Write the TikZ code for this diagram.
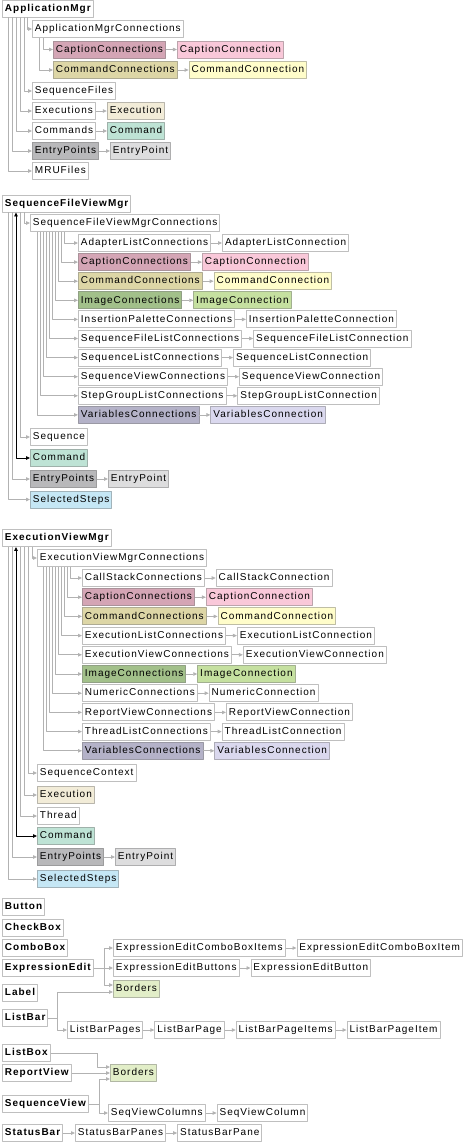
\documentclass[tikz,border=0pt]{standalone}
\usepackage{fontspec}
\setmainfont{Liberation Sans}[LetterSpace=10]
\usetikzlibrary{positioning,arrows.meta}
\definecolor{cCapA}{HTML}{D4A5B5}
\definecolor{cCapB}{HTML}{F9C8D9}
\definecolor{cCmdA}{HTML}{DDD6A6}
\definecolor{cCmdB}{HTML}{FFFDCA}
\definecolor{cImgA}{HTML}{A2C08A}
\definecolor{cImgB}{HTML}{C5E0A0}
\definecolor{cVarA}{HTML}{B4B2C8}
\definecolor{cVarB}{HTML}{DAD8EE}
\definecolor{cExe}{HTML}{F2ECD8}
\definecolor{cCmo}{HTML}{BEE3D5}
\definecolor{cEpA}{HTML}{B8B8BA}
\definecolor{cEpB}{HTML}{DDDDDE}
\definecolor{cSel}{HTML}{C5E7F5}
\definecolor{cBrd}{HTML}{E2EEC8}
\begin{document}
\begin{tikzpicture}[x=1pt, y=-1pt, font=\fontsize{10}{12}\selectfont, line join=round, >={Triangle[length=4pt,width=3.5pt]}, node distance=11pt,
	box/.style={draw=gray!50, line width=0.9pt, fill=white, anchor=west, inner xsep=2.5pt, inner ysep=0pt, minimum height=17pt, text height=7.5pt, text depth=2pt},
	mgr/.style={box, font=\fontsize{10}{12}\selectfont\bfseries},
	tint/.style={fill=#1, draw=#1!50!gray},
	link/.style={->, gray!60, line width=0.8pt},
	wire/.style={gray!60, line width=0.8pt},
	back/.style={<->, black, line width=0.8pt}]
	\useasboundingbox (0,0) rectangle (471,1143); % page size in px
	% ApplicationMgr
	\node[mgr] (am) at (2,8.5) {ApplicationMgr};
	\node[box] (amc) at (32,29) {ApplicationMgrConnections};
	\node[box,tint=cCapA] (am1) at (53,49.5) {CaptionConnections};
	\node[box,tint=cCapB,right=of am1] (am1x) {CaptionConnection};
	\node[box,tint=cCmdA] (am2) at (53,70) {CommandConnections};
	\node[box,tint=cCmdB,right=of am2] (am2x) {CommandConnection};
	\foreach \n/\y/\c/\t in {sf/91/white/SequenceFiles, ex/111/white/Executions, cm/131/white/Commands, ep/151/cEpA/EntryPoints, mru/171/white/MRUFiles}
	\node[box,tint=\c] (am-\n) at (32,\y) {\t};
	\node[box,tint=cExe,right=of am-ex] (am-exx) {Execution};
	\node[box,tint=cCmo,right=of am-cm] (am-cmx) {Command};
	\node[box,tint=cEpB,right=of am-ep] (am-epx) {EntryPoint};
	\foreach \n/\dx in {amc/25, am-sf/22, am-ex/18, am-cm/14, am-ep/10, am-mru/6}
	\draw[link] ([xshift=\dx]am.south west) |- (\n.west);
	\foreach \n/\dx in {am1/11, am2/7}
	\draw[link] ([xshift=\dx]amc.south west) |- (\n.west);
	\foreach \a/\b in {am1/am1x, am2/am2x, am-ex/am-exx, am-cm/am-cmx, am-ep/am-epx}
	\draw[link] (\a) -- (\b);
	% SequenceFileViewMgr
	\node[mgr] (fm) at (2,203.5) {SequenceFileViewMgr};
	\node[box] (fmc) at (30,223) {SequenceFileViewMgrConnections};
	\foreach \i/\c/\t/\d/\u in {1/white/AdapterListConnections/white/AdapterListConnection, 2/cCapA/CaptionConnections/cCapB/CaptionConnection, 3/cCmdA/CommandConnections/cCmdB/CommandConnection, 4/cImgA/ImageConnections/cImgB/ImageConnection, 5/white/InsertionPaletteConnections/white/InsertionPaletteConnection, 6/white/SequenceFileListConnections/white/SequenceFileListConnection, 7/white/SequenceListConnections/white/SequenceListConnection, 8/white/SequenceViewConnections/white/SequenceViewConnection, 9/white/StepGroupListConnections/white/StepGroupListConnection, 10/cVarA/VariablesConnections/cVarB/VariablesConnection}{
		\node[box,tint=\c] (fc\i) at (78,{243+19.1*(\i-1)}) {\t};
		\node[box,tint=\d,right=of fc\i] (fd\i) {\u};
		\draw[link] (fc\i) -- (fd\i);
		\draw[link] ([xshift={37-3*\i}]fmc.south west) |- (fc\i.west);
	}
	\foreach \n/\y/\c/\t in {seq/437/white/Sequence, cmd/458/cCmo/Command, ep/479/cEpA/EntryPoints, sel/499.5/cSel/SelectedSteps}
	\node[box,tint=\c] (fm-\n) at (30,\y) {\t};
	\node[box,tint=cEpB,right=of fm-ep] (fm-epx) {EntryPoint};
	\draw[link] (fm-ep) -- (fm-epx);
	\foreach \n/\dx in {fmc/22, fm-seq/18, fm-ep/10, fm-sel/6}
	\draw[link] ([xshift=\dx]fm.south west) |- (\n.west);
	\draw[back] ([xshift=14]fm.south west) |- (fm-cmd.west);
	% ExecutionViewMgr
	\node[mgr] (em) at (2,538) {ExecutionViewMgr};
	\node[box] (emc) at (37,558) {ExecutionViewMgrConnections};
	\foreach \i/\c/\t/\d/\u in {1/white/CallStackConnections/white/CallStackConnection, 2/cCapA/CaptionConnections/cCapB/CaptionConnection, 3/cCmdA/CommandConnections/cCmdB/CommandConnection, 4/white/ExecutionListConnections/white/ExecutionListConnection, 5/white/ExecutionViewConnections/white/ExecutionViewConnection, 6/cImgA/ImageConnections/cImgB/ImageConnection, 7/white/NumericConnections/white/NumericConnection, 8/white/ReportViewConnections/white/ReportViewConnection, 9/white/ThreadListConnections/white/ThreadListConnection, 10/cVarA/VariablesConnections/cVarB/VariablesConnection}{
		\node[box,tint=\c] (ec\i) at (82,{578+19.2*(\i-1)}) {\t};
		\node[box,tint=\d,right=of ec\i] (ed\i) {\u};
		\draw[link] (ec\i) -- (ed\i);
		\draw[link] ([xshift={36-3*\i}]emc.south west) |- (ec\i.west);
	}
	\foreach \n/\y/\c/\t in {ctx/773/white/SequenceContext, exe/795/cExe/Execution, thr/816/white/Thread, cmd/836/cCmo/Command, ep/857/cEpA/EntryPoints, sel/879/cSel/SelectedSteps}
	\node[box,tint=\c] (em-\n) at (37,\y) {\t};
	\node[box,tint=cEpB,right=of em-ep] (em-epx) {EntryPoint};
	\draw[link] (em-ep) -- (em-epx);
	\foreach \n/\dx in {emc/30, em-ctx/26, em-exe/22, em-thr/18, em-ep/10, em-sel/6}
	\draw[link] ([xshift=\dx]em.south west) |- (\n.west);
	\draw[back] ([xshift=14]em.south west) |- (em-cmd.west);
	% controls
	\foreach \n/\y/\t in {btn/907/Button, chk/928/CheckBox, cmb/948/ComboBox, ee/968/ExpressionEdit, lbl/993/Label, lb/1018/ListBar, lbx/1053/ListBox, rv/1073/ReportView, sv/1104/SequenceView, sb/1133/StatusBar}
	\node[mgr] (\n) at (2,\y) {\t};
	\node[box] (ee1) at (113,948) {ExpressionEditComboBoxItems};
	\node[box,right=of ee1] (ee1x) {ExpressionEditComboBoxItem};
	\node[box] (ee2) at (113,968) {ExpressionEditButtons};
	\node[box,right=of ee2] (ee2x) {ExpressionEditButton};
	\node[box,tint=cBrd] (brd1) at (113,989) {Borders};
	\node[box] (lb1) at (67,1030) {ListBarPages};
	\node[box,right=of lb1] (lb2) {ListBarPage};
	\node[box,right=of lb2] (lb3) {ListBarPageItems};
	\node[box,right=of lb3] (lb4) {ListBarPageItem};
	\node[box,tint=cBrd] (brd2) at (110,1073) {Borders};
	\node[box] (sv1) at (108,1113) {SeqViewColumns};
	\node[box,right=of sv1] (sv2) {SeqViewColumn};
	\node[box] (sb1) at (75,1133) {StatusBarPanes};
	\node[box,right=of sb1] (sb2) {StatusBarPane};
	\coordinate (eej) at (104,968);
	\coordinate (lbj) at (57,1018);
	\coordinate (lbxj) at (97,1053);
	\coordinate (svj) at (99,1104);
	\draw[wire] (ee) -- (eej);
	\draw[wire] (lb) -- (lbj);
	\draw[wire] (lbx) -- (lbxj);
	\draw[wire] (sv) -- (svj);
	\draw[link] (eej) |- (ee1.west);
	\draw[link] (eej) -- (ee2.west);
	\draw[link] (eej) |- ([yshift=4pt]brd1.west);
	\draw[link] (lbj) |- ([yshift=-3pt]brd1.west);
	\draw[link] (lbj) |- (lb1.west);
	\draw[link] (lbxj) |- ([yshift=6pt]brd2.west);
	\draw[link] (rv) -- (brd2);
	\draw[link] (svj) |- ([yshift=-6pt]brd2.west);
	\draw[link] (svj) |- (sv1.west);
	\foreach \a/\b in {ee1/ee1x, ee2/ee2x, lb1/lb2, lb2/lb3, lb3/lb4, sv1/sv2, sb/sb1, sb1/sb2}
	\draw[link] (\a) -- (\b);
\end{tikzpicture}
\end{document}
